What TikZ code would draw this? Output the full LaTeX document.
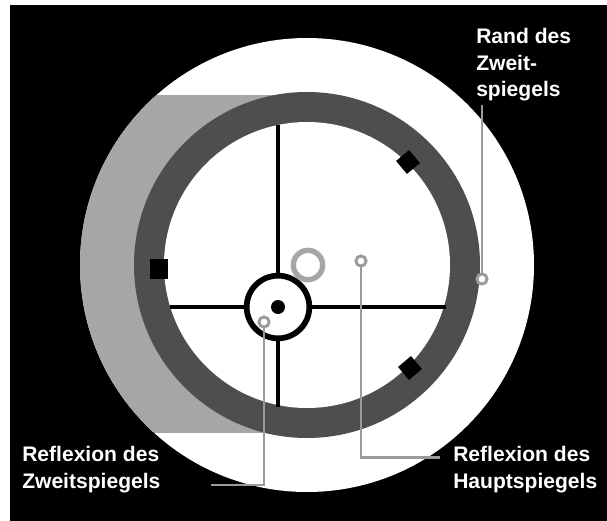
\documentclass[tikz,border=0pt]{standalone}
\usepackage{fontspec}
\setmainfont{Liberation Sans}
\usepackage{xcolor}
\usetikzlibrary{positioning,shapes.geometric}
\definecolor{ringgrey}{HTML}{4F4D4E}
\definecolor{shadegrey}{HTML}{A7A5A6}
\definecolor{leadgrey}{HTML}{9B9A9C}
\tikzset{
  disc/.style={circle, inner sep=0pt, outer sep=0pt},
  pin/.style={disc, fill=white, draw=leadgrey, line width=2.2pt, minimum size=7.6pt},
  lead/.style={draw=leadgrey, line width=2.1pt},
  vane/.style={draw=black, line width=3.7pt},
  clampbox/.style={fill=black, inner sep=0pt, outer sep=0pt},
  lbl/.style={font=\bfseries\fontsize{15.8}{20}\selectfont, text=white, align=left, inner sep=0pt, anchor=north west}
}

\begin{document}
\begin{tikzpicture}[x=0.75pt, y=-0.75pt]
  \useasboundingbox (0,0) rectangle (607,521);
  % Background
  \fill[black] (10,5) rectangle (607,521);

  % Main mirror disc
  \node[disc, fill=white, minimum size=340.5pt] (main) at (307,265) {};

  % Shaded part on the left
  \begin{scope}
    \clip (307,265) circle (227);
    \fill[shadegrey] (60,95) rectangle (300,433);
  \end{scope}

  % Ring and inner field
  \node[disc, fill=ringgrey, minimum size=259.5pt] (ring) at (307,265) {};
  \node[disc, fill=white, minimum size=214.5pt] (field) at (307,265) {};

  % Spider vanes
  \coordinate (vT) at (278,125);
  \coordinate (vB) at (278,407);
  \coordinate (vL) at (170,307);
  \coordinate (vR) at (446,307);
  \draw[vane] (vT) -- (vB);
  \draw[vane] (vL) -- (vR);

  % Secondary mirror
  \node[disc, fill=white, draw=black, line width=4.3pt, minimum size=47pt] (sec) at (278,307) {};
  \node[disc, fill=black, minimum size=10.5pt] (dot) at (278,307) {};

  % Offset ring
  \node[disc, draw=shadegrey, line width=4pt, minimum size=22pt] (off) at (308,265) {};

  % Clamps
  \node[clampbox, minimum width=13pt, minimum height=14.5pt] (cL) at (159,269) {};
  \node[clampbox, diamond, aspect=1, minimum size=18pt, rotate=-5] (cT) at (408,162) {};
  \node[clampbox, diamond, aspect=1, minimum size=18pt, rotate=-5] (cB) at (410,368) {};

  % Labels
  \node[lbl] (lSec) at (22,446) {Reflexion des\\Zweitspiegels};
  \node[lbl] (lMain) at (453,446) {Reflexion des\\Hauptspiegels};
  \node[lbl] (lRim) at (476,28) {Rand des\\Zweit-\\spiegels};

  % Leaders
  \coordinate (eSec) at (211,485);
  \coordinate (eMain) at (440,457.5);
  \coordinate (eRim) at (482,105);
  \node[pin] (pSec) at (264,322) {};
  \node[pin] (pMain) at (361,261) {};
  \node[pin] (pRim) at (482,279) {};
  \draw[lead] (pSec) |- (eSec);
  \draw[lead] (pMain) |- (eMain);
  \draw[lead] (pRim) -- (eRim);
\end{tikzpicture}
\end{document}
